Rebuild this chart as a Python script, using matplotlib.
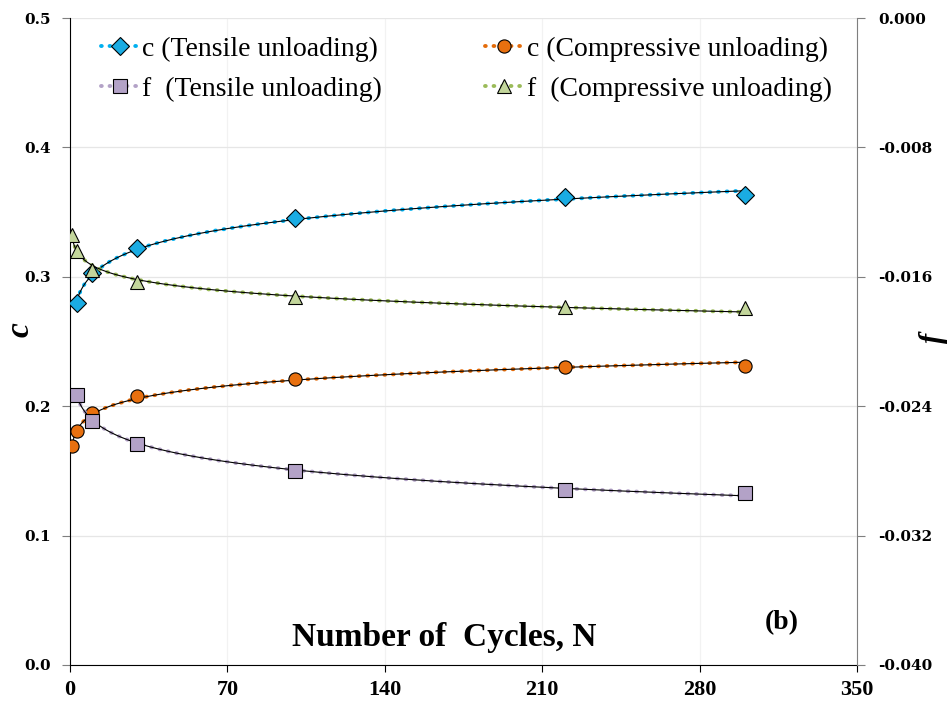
import matplotlib
matplotlib.use("Agg")
import matplotlib.pyplot as plt
from matplotlib.lines import Line2D
import numpy as np

# data
N_tens = [3, 10, 30, 100, 220, 300]
N_comp = [1, 3, 10, 30, 100, 220, 300]
c_tens = [0.2800, 0.3030, 0.3225, 0.3454, 0.3614, 0.3632]
c_comp = [0.1692, 0.1811, 0.1950, 0.2079, 0.2208, 0.2305, 0.2311]
f_tens = [-0.02331, -0.02490, -0.02636, -0.02799, -0.02918, -0.02935]
f_comp = [-0.01342, -0.01441, -0.01558, -0.01630, -0.01725, -0.01785, -0.01795]

x_ticks = [0, 70, 140, 210, 280, 350]
c_ticks = [0.0, 0.1, 0.2, 0.3, 0.4, 0.5]
c_labels = ["0.0", "0.1", "0.2", "0.3", "0.4", "0.5"]
f_ticks = [-0.040, -0.032, -0.024, -0.016, -0.008, 0.000]
f_labels = ["-0.040", "-0.032", "-0.024", "-0.016", "-0.008", "0.000"]

names = ["c (Tensile unloading)", "f  (Tensile unloading)",
         "c (Compressive unloading)", "f  (Compressive unloading)"]

blue, orange, purple, green = "#00B0F0", "#E46C0A", "#B3A2C7", "#9BBB59"
fills = ["#1AACE3", "#E8700F", "#B3A2C7", "#C3D69B"]


def power_fit(n, v):
    # trendline y = a * N^b, fitted in log space
    sign = np.sign(v[0])
    b, loga = np.polyfit(np.log(n), np.log(np.abs(v)), 1)
    nn = np.linspace(min(n), max(n), 400)
    return nn, sign * np.exp(loga) * nn ** b


fig = plt.figure(figsize=(9.5, 7.05), dpi=100)
ax = fig.add_axes([70 / 950, 40 / 705, 787 / 950, 647 / 705])
ax2 = ax.twinx()

dot = dict(lw=2.8, linestyle=(0, (0.2, 2.0)), dash_capstyle="round")
series = [(ax, N_tens, c_tens, blue, "D", fills[0], 9.5),
          (ax2, N_tens, f_tens, purple, "s", fills[2], 9.5),
          (ax, N_comp, c_comp, orange, "o", fills[1], 9.5),
          (ax2, N_comp, f_comp, green, "^", fills[3], 10)]

handles = []
for a, n, v, col, mk, fc, ms in series:
    nn, fit = power_fit(n, v)
    a.plot(nn, fit, color=col, zorder=2, **dot)
    a.plot(nn, fit, color="black", lw=0.8, zorder=3)
    a.plot(n, v, linestyle="none", marker=mk, ms=ms, mfc=fc, mec="black",
           mew=0.8, zorder=4)
    handles.append(Line2D([], [], color=col, marker=mk, ms=ms, mfc=fc,
                          mec="black", mew=0.8, **dot))

ax.set_xlim(0, 350)
ax.set_ylim(0, 0.5)
ax2.set_ylim(-0.040, 0.0)
ax.set_xticks(x_ticks)
ax.set_xticklabels([str(t) for t in x_ticks], family="Liberation Serif",
                   weight="bold", fontsize=16)
ax.set_yticks(c_ticks)
ax.set_yticklabels(c_labels, family="DejaVu Serif", weight="bold", fontsize=11)
ax2.set_yticks(f_ticks)
ax2.set_yticklabels(f_labels, family="DejaVu Serif", weight="bold", fontsize=11)

ax.grid(axis="y", color="#E6E6E6", lw=0.9)
ax.grid(axis="x", color="#F2F2F2", lw=0.9)
ax.set_axisbelow(True)

for a in (ax, ax2):
    a.spines["top"].set_visible(False)
ax2.spines["left"].set_visible(False)
ax2.spines["bottom"].set_visible(False)
ax.spines["right"].set_visible(False)
ax.spines["left"].set_color("black")
ax.spines["bottom"].set_color("black")
ax2.spines["right"].set_color("#7F7F7F")
ax.tick_params(axis="y", length=6, color="#7F7F7F", pad=8)
ax.tick_params(axis="x", length=5, color="black", pad=6)
ax2.tick_params(axis="y", length=6, color="#7F7F7F", pad=9)

leg = ax.legend(handles, names, loc="upper left", bbox_to_anchor=(0.039, 0.972),
                ncol=2, frameon=False, borderaxespad=0, borderpad=0,
                handlelength=1.4, handletextpad=0.1, columnspacing=3.7,
                labelspacing=0.53, prop={"family": "Liberation Serif", "size": 20})

ax.text(0.476, 0.042, "Number of  Cycles, N", transform=ax.transAxes,
        ha="center", va="center", family="Liberation Serif", weight="bold",
        fontsize=24)
ax.text(0.905, 0.066, "(b)", transform=ax.transAxes, ha="center", va="center",
        family="Liberation Serif", weight="bold", fontsize=20)

fig.text(20 / 950, 1 - 330 / 705, "c", rotation=90, ha="center", va="center",
         family="Liberation Serif", weight="bold", style="italic", fontsize=24)
fig.text(933 / 950, 1 - 338 / 705, "f", rotation=90, ha="center", va="center",
         family="Liberation Serif", weight="bold", style="italic", fontsize=22)

fig.savefig("out.png", dpi=100, facecolor="white")
